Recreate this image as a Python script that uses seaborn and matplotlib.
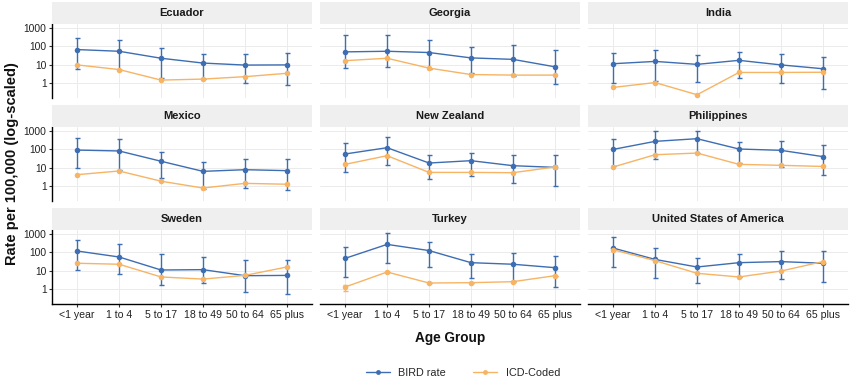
import numpy as np
import pandas as pd
import matplotlib
matplotlib.use("Agg")
import matplotlib.pyplot as plt
from matplotlib.lines import Line2D
import seaborn as sns

countries = ["Ecuador", "Georgia", "India", "Mexico", "New Zealand", "Philippines",
             "Sweden", "Turkey", "United States of America"]
age_groups = ["<1 year", "1 to 4", "5 to 17", "18 to 49", "50 to 64", "65 plus"]
y_ticks = [1, 10, 100, 1000]
y_tick_labels = ["1", "10", "100", "1000"]

bird_rate = {
    "Ecuador": [68, 55, 23, 12.6, 9.8, 10],
    "Georgia": [51, 55, 47, 24, 20, 7.9],
    "India": [11.6, 15.5, 10.7, 17.7, 10, 6.2],
    "Mexico": [93, 83, 23, 6.5, 8, 7.1],
    "New Zealand": [57, 125, 18.4, 24.7, 13.2, 10.7],
    "Philippines": [101, 276, 385, 106, 90, 41],
    "Sweden": [120, 57, 11.2, 11.7, 5.5, 5.7],
    "Turkey": [48, 275, 127, 28, 23, 15],
    "United States of America": [174, 42, 16.3, 28, 32, 26],
}
bird_lo = {
    "Ecuador": [6, 5.4, 2, 1.7, 1.0, 0.85],
    "Georgia": [6.7, 7.6, 6, 3.5, 2.6, 0.9],
    "India": [1.1, 1.4, 1.2, 2, 1, 0.49],
    "Mexico": [10, 8, 2.8, 0.75, 0.85, 0.66],
    "New Zealand": [6.0, 13.8, 2.5, 3.8, 1.5, 1.0],
    "Philippines": [12, 32, 62, 18.5, 11, 4],
    "Sweden": [10.7, 6.8, 1.8, 2.1, 0.69, 0.56],
    "Turkey": [4.9, 28, 17, 4.0, 2.8, 1.4],
    "United States of America": [15.6, 4.3, 2.3, 4.9, 3.5, 2.5],
}
bird_hi = {
    "Ecuador": [275, 222, 78, 41, 41, 45],
    "Georgia": [400, 420, 232, 92, 114, 68],
    "India": [47, 63, 36, 49, 41, 26],
    "Mexico": [437, 370, 73, 21, 30, 30],
    "New Zealand": [225, 475, 52, 64, 50, 50],
    "Philippines": [385, 960, 960, 265, 300, 175],
    "Sweden": [475, 275, 79, 59, 39, 39],
    "Turkey": [190, 1090, 370, 84, 90, 64],
    "United States of America": [690, 167, 52, 79, 120, 115],
}
icd_rate = {
    "Ecuador": [10, 5.6, 1.5, 1.7, 2.3, 3.5],
    "Georgia": [17, 23, 6.7, 3.0, 2.8, 2.8],
    "India": [0.6, 1.1, 0.24, 3.9, 3.9, 4.0],
    "Mexico": [4.3, 6.8, 1.9, 0.81, 1.45, 1.3],
    "New Zealand": [15.6, 46, 5.7, 5.7, 5.5, 11.2],
    "Philippines": [11.2, 52, 64, 15.6, 13.8, 12],
    "Sweden": [26, 23, 4.7, 3.6, 5.7, 16.3],
    "Turkey": [1.34, 8.7, 2.2, 2.3, 2.6, 5.5],
    "United States of America": [141, 36, 7.4, 4.7, 9.8, 32],
}
icd_lo = {"Turkey": [0.85, 8.7, 2.2, 2.3, 2.6, 5.5]}
icd_hi = {"Turkey": [1.7, 8.7, 2.2, 2.3, 2.6, 5.5]}

series_names = ["BIRD rate", "ICD-Coded"]
colors = {"BIRD rate": "#3D6DB2", "ICD-Coded": "#F6B464"}

rows = []
for c in countries:
    for i, a in enumerate(age_groups):
        rows.append(dict(country=c, pos=i, age=a, rate=bird_rate[c][i], series="BIRD rate"))
        rows.append(dict(country=c, pos=i, age=a, rate=icd_rate[c][i], series="ICD-Coded"))
df = pd.DataFrame(rows)

sns.set_style("white")
plt.rcParams["font.family"] = ["Liberation Sans", "DejaVu Sans"]

W, H = 850, 379
fig = plt.figure(figsize=(W / 100, H / 100), dpi=100)

col_left = [52, 320, 588]
panel_w = 260
strip_top = [2, 105, 208]
strip_h = 22
panel_h = 74

for k, c in enumerate(countries):
    r, col = divmod(k, 3)
    x0 = col_left[col]
    st = strip_top[r]
    pt = st + strip_h
    ax = fig.add_axes([x0 / W, 1 - (pt + panel_h) / H, panel_w / W, panel_h / H])
    sax = fig.add_axes([x0 / W, 1 - (st + strip_h) / H, panel_w / W, strip_h / H])
    sax.set_facecolor("#EFEFEF")
    for s in sax.spines.values():
        s.set_visible(False)
    sax.set_xticks([])
    sax.set_yticks([])
    sax.text(0.5, 0.5, c, ha="center", va="center", fontsize=8, fontweight="bold",
             color="#1A1A1A", transform=sax.transAxes)

    sub = df[df.country == c]
    x = np.arange(len(age_groups))
    b = np.array(bird_rate[c])
    ax.errorbar(x, b, yerr=[b - np.array(bird_lo[c]), np.array(bird_hi[c]) - b],
                fmt="none", ecolor=colors["BIRD rate"], elinewidth=1.0, capsize=1.8,
                capthick=1.0, zorder=2)
    if c in icd_lo:
        ic = np.array(icd_rate[c])
        ax.errorbar(x, ic, yerr=[ic - np.array(icd_lo[c]), np.array(icd_hi[c]) - ic],
                    fmt="none", ecolor=colors["ICD-Coded"], elinewidth=1.0, capsize=1.8,
                    capthick=1.0, zorder=2)
    sns.lineplot(data=sub, x="pos", y="rate", hue="series", hue_order=series_names,
                 palette=colors, marker="o", markersize=4, markeredgewidth=0,
                 linewidth=1.0, legend=False, ax=ax, zorder=3)
    ax.set_yscale("log")
    ax.set_ylim(0.16, 1660)
    ax.set_xlim(-0.6, 5.6)
    ax.set_xticks(x)
    ax.set_yticks(y_ticks)
    ax.yaxis.set_minor_locator(matplotlib.ticker.NullLocator())
    ax.grid(True, color="#EBEBEB", linewidth=0.7)
    ax.set_axisbelow(True)
    ax.set_xlabel("")
    ax.set_ylabel("")
    for s in ax.spines.values():
        s.set_visible(False)
    if col == 0:
        ax.spines["left"].set_visible(True)
        ax.spines["left"].set_color("black")
        ax.spines["left"].set_linewidth(1.0)
        ax.set_yticklabels(y_tick_labels)
        ax.tick_params(axis="y", length=2.5, width=0.8, color="#333333", labelsize=7.4,
                       labelcolor="#222222", pad=1.5, left=True)
    else:
        ax.tick_params(axis="y", length=0, labelleft=False)
    if r == 2:
        ax.spines["bottom"].set_visible(True)
        ax.spines["bottom"].set_color("black")
        ax.spines["bottom"].set_linewidth(1.0)
        ax.set_xticklabels(age_groups)
        ax.tick_params(axis="x", length=2.5, width=0.8, color="#333333", labelsize=7.6,
                       labelcolor="#222222", pad=2, bottom=True)
    else:
        ax.tick_params(axis="x", length=0, labelbottom=False)

fig.text(12 / W, 1 - 164 / H, "Rate per 100,000 (log-scaled)", rotation=90,
         ha="center", va="center", fontsize=10.5, fontweight="bold", color="#111111")
fig.text(450 / W, 1 - 338 / H, "Age Group", ha="center", va="center",
         fontsize=9.8, fontweight="bold", color="#111111")

handles = [Line2D([0], [0], color=colors[s], marker="o", markersize=3.5,
                  markeredgewidth=0, linewidth=1.0) for s in series_names]
fig.legend(handles, series_names, loc="center", bbox_to_anchor=(463 / W, 1 - 373 / H),
           ncol=2, frameon=False, fontsize=7.8, handlelength=2.2, handletextpad=0.8,
           columnspacing=2.5)

fig.savefig("out.png", dpi=100)
